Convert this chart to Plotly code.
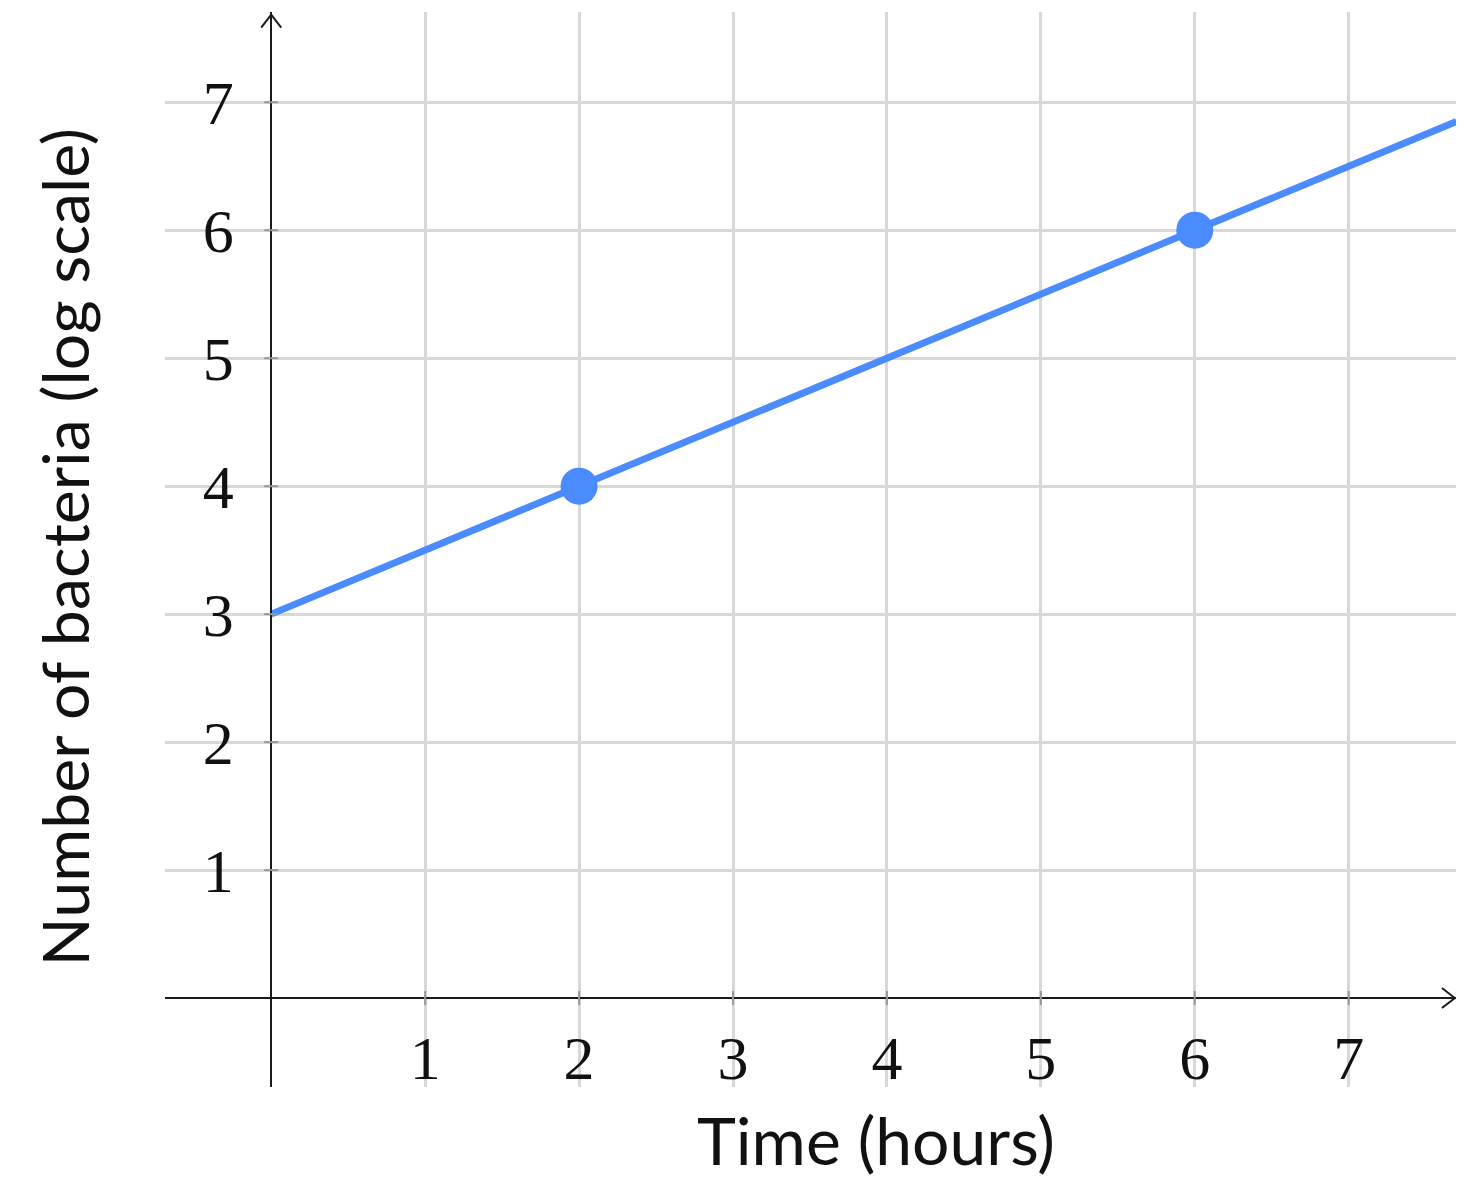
import plotly.graph_objects as go

# Data
time_line = [0, 7.7]
value_line = [3, 6.85]
time_points = [2, 6]
value_points = [4, 6]
x_ticks = [1, 2, 3, 4, 5, 6, 7]
y_ticks = [1, 2, 3, 4, 5, 6, 7]
x_title = "Time (hours)"
y_title = "Number of bacteria (log scale)"

X_RANGE = [-0.69, 7.71]
Y_RANGE = [-0.695, 7.705]
BLUE = "#4a8cff"
GRID = "#d8d8d8"
AXIS = "#1a1a1a"

fig = go.Figure()
fig.add_trace(go.Scatter(x=time_line, y=value_line, mode="lines",
                         line=dict(color=BLUE, width=7), hoverinfo="skip",
                         showlegend=False))
fig.add_trace(go.Scatter(x=time_points, y=value_points, mode="markers",
                         marker=dict(color=BLUE, size=37), showlegend=False))

x_pos = -X_RANGE[0] / (X_RANGE[1] - X_RANGE[0])
y_pos = -Y_RANGE[0] / (Y_RANGE[1] - Y_RANGE[0])

tick_font = dict(family="Liberation Serif, DejaVu Serif, serif", size=62, color="#111")

fig.update_layout(
    width=1464, height=1196,
    margin=dict(l=157, r=14, t=4, b=117),
    paper_bgcolor="white", plot_bgcolor="white",
    xaxis=dict(range=X_RANGE, tickvals=x_ticks, ticktext=[str(v) for v in x_ticks],
               showgrid=True, gridcolor=GRID, gridwidth=3, zeroline=False,
               showline=True, linecolor=AXIS, linewidth=2,
               anchor="free", position=y_pos, ticks="", ticklabelstandoff=6,
               tickfont=tick_font, fixedrange=True),
    yaxis=dict(range=Y_RANGE, tickvals=y_ticks, ticktext=[str(v) for v in y_ticks],
               showgrid=True, gridcolor=GRID, gridwidth=3, zeroline=False,
               showline=True, linecolor=AXIS, linewidth=2,
               anchor="free", position=x_pos, ticks="", ticklabelstandoff=24,
               tickfont=tick_font, fixedrange=True),
)

shapes = []
for t in x_ticks:
    shapes.append(dict(type="line", xref="x", yref="y", x0=t, x1=t,
                       ysizemode="pixel", yanchor=0, y0=-7, y1=7,
                       line=dict(color="#999", width=2)))
for t in y_ticks:
    shapes.append(dict(type="line", xref="x", yref="y", y0=t, y1=t,
                       xsizemode="pixel", xanchor=0, x0=-7, x1=7,
                       line=dict(color="#999", width=2)))
# arrow heads
shapes.append(dict(type="path", xref="x", yref="y", xsizemode="pixel", ysizemode="pixel",
                   xanchor=X_RANGE[1] - 0.02, yanchor=0, path="M-13,-10 L0,0 L-13,10",
                   line=dict(color=AXIS, width=2)))
shapes.append(dict(type="path", xref="x", yref="y", xsizemode="pixel", ysizemode="pixel",
                   xanchor=0, yanchor=Y_RANGE[1] - 0.02, path="M-10,-13 L0,0 L10,-13",
                   line=dict(color=AXIS, width=2)))
fig.update_layout(shapes=shapes)

title_font = dict(family="Lato, DejaVu Sans, sans-serif", size=66, color="#111")
fig.add_annotation(text=x_title, xref="x", yref="paper", x=3.93, y=-0.049,
                   showarrow=False, font=title_font, xanchor="center", yanchor="middle")
fig.add_annotation(text=y_title, xref="paper", yref="paper", x=-0.078, y=0.502,
                   textangle=-90, showarrow=False, font=dict(title_font, size=64.5),
                   xanchor="center", yanchor="middle")

fig.write_html("out.html")
